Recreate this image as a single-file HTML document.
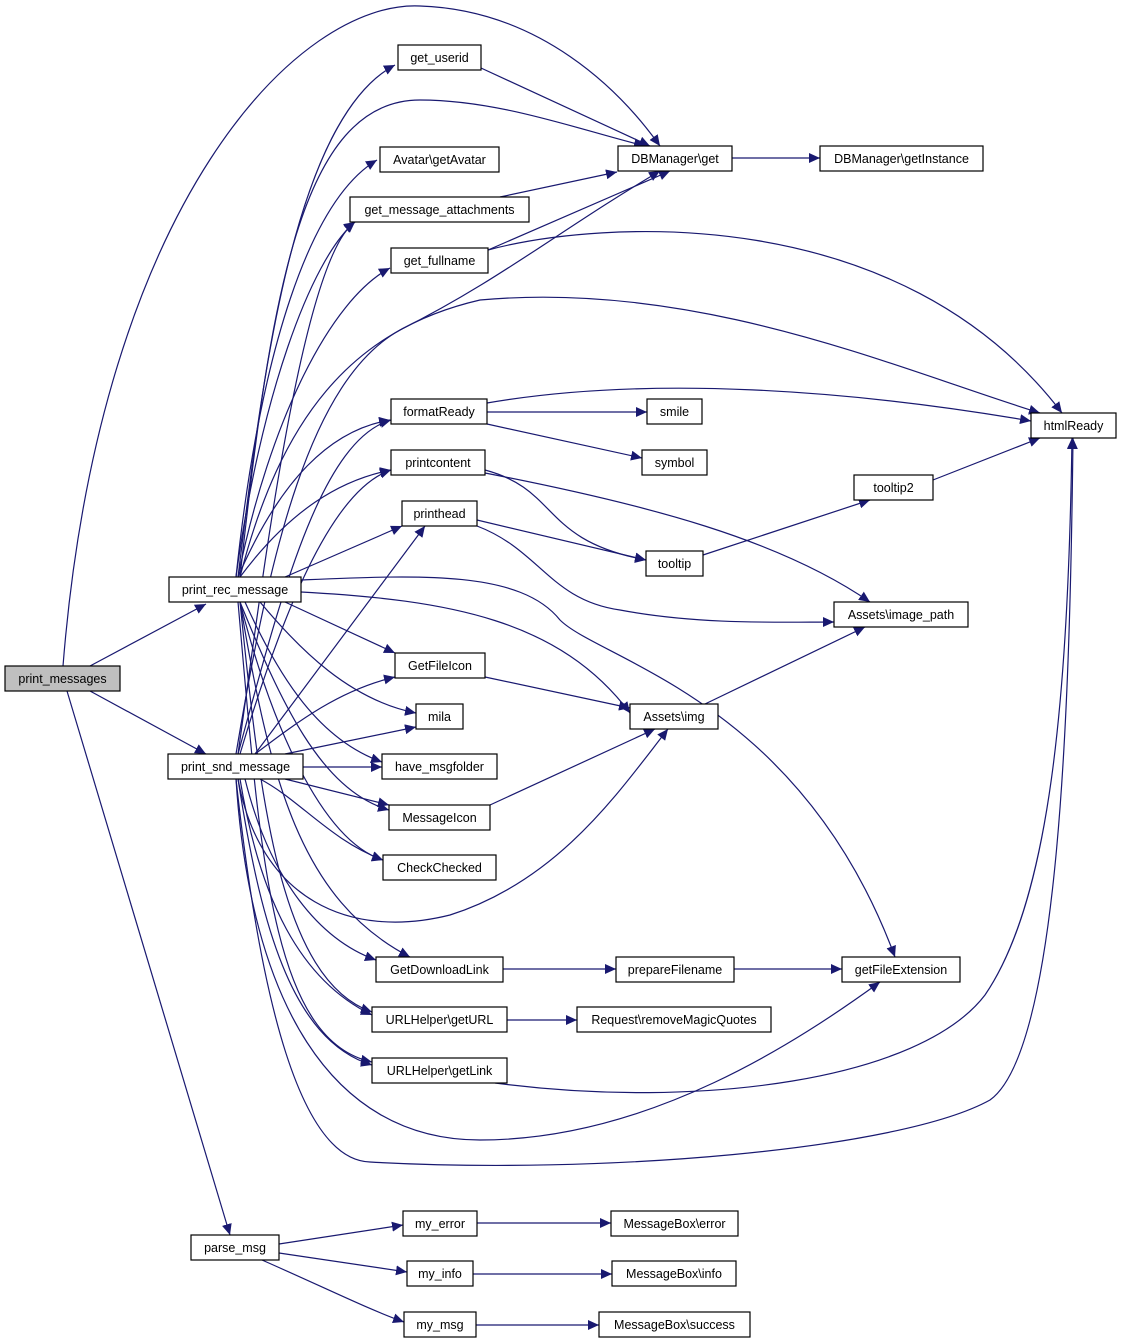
<!DOCTYPE html>
<html><head><meta charset="utf-8"><style>
html,body{margin:0;padding:0;background:#fff;}
svg{display:block;}
text{font-family:"Liberation Sans",sans-serif;font-size:12.5px;fill:#000;}
.n{fill:#fff;stroke:#000;stroke-width:1.2;}
.e{fill:none;stroke:#191970;stroke-width:1.2;}
</style></head><body>
<svg width="1121" height="1344" viewBox="0 0 1121 1344" xmlns="http://www.w3.org/2000/svg">
<defs><marker id="a" markerUnits="userSpaceOnUse" markerWidth="12" markerHeight="10" refX="11" refY="5" orient="auto"><path d="M0,0 L11,5 L0,10 Z" fill="#191970"/></marker></defs>
<g class="e" marker-end="url(#a)">
<path d="M90,666 L206,604"/>
<path d="M90,691 L206,754"/>
<path d="M67,691 L230,1235"/>
<path d="M63,666 C100,200 300,0 420,6 C540,10 620,90 660,146"/>
<path d="M481,68 L650,146"/>
<path d="M500,197 L617,172"/>
<path d="M488,250 L670,171"/>
<path d="M488,250 C600,220 900,200 1062,413"/>
<path d="M732,158 L820,158"/>
<path d="M487,403 C650,375 850,390 1031,421"/>
<path d="M487,412 L647,412"/>
<path d="M487,424 L642,458"/>
<path d="M485,470 C560,490 540,540 646,560"/>
<path d="M485,473 C650,505 780,540 870,602"/>
<path d="M477,520 L646,560"/>
<path d="M477,526 C540,550 550,600 620,610 C700,625 780,622 834,622"/>
<path d="M703,555 L870,500"/>
<path d="M933,480 L1040,438"/>
<path d="M485,677 L630,708"/>
<path d="M705,704 L865,627"/>
<path d="M490,805 L655,729"/>
<path d="M503,969 L616,969"/>
<path d="M734,969 L842,969"/>
<path d="M507,1020 L577,1020"/>
<path d="M279,1244 L403,1225"/>
<path d="M279,1253 L407,1272"/>
<path d="M262,1260 C330,1290 370,1310 404,1322"/>
<path d="M477,1223 L611,1223"/>
<path d="M473,1274 L612,1274"/>
<path d="M476,1325 L599,1325"/>
<!-- print_rec_message edges -->
<path d="M238,577 C260,400 290,120 395,65"/>
<path d="M240,577 C270,300 300,100 420,100 C500,100 580,130 645,146"/>
<path d="M236,577 C260,350 310,200 377,160"/>
<path d="M236,577 C260,400 310,260 355,222"/>
<path d="M238,577 C270,420 330,300 390,268"/>
<path d="M240,577 C280,420 350,330 480,300 C700,280 900,370 1040,413"/>
<path d="M238,577 C280,480 330,430 390,420"/>
<path d="M240,577 C290,510 340,480 391,470"/>
<path d="M285,577 L402,526"/>
<path d="M301,580 C420,575 520,570 560,620 C600,660 800,700 895,957"/>
<path d="M301,592 C450,600 560,620 630,713"/>
<path d="M285,602 L395,653"/>
<path d="M260,602 C300,650 350,700 416,713"/>
<path d="M245,602 C280,680 320,740 382,762"/>
<path d="M240,602 C280,700 320,790 389,810"/>
<path d="M240,602 C270,720 320,840 383,860"/>
<path d="M240,602 C270,780 300,900 410,957"/>
<path d="M240,602 C260,800 280,980 372,1012"/>
<path d="M238,602 C260,850 270,1040 372,1062"/>
<!-- print_snd_message edges -->
<path d="M238,754 C260,600 300,260 355,222"/>
<path d="M238,754 C280,600 320,440 391,420"/>
<path d="M240,754 C280,620 330,490 391,470"/>
<path d="M255,754 L425,526"/>
<path d="M236,754 C270,550 310,380 400,330 C500,280 560,230 660,171"/>
<path d="M255,754 C300,720 340,690 395,677"/>
<path d="M285,754 L416,727"/>
<path d="M303,767 L382,767"/>
<path d="M285,779 L389,805"/>
<path d="M260,779 C300,800 330,840 383,860"/>
<path d="M238,779 C260,900 350,940 450,915 C560,880 620,790 668,729"/>
<path d="M245,779 C270,880 320,940 376,960"/>
<path d="M240,779 C260,900 300,980 372,1015"/>
<path d="M238,779 C260,920 290,1040 372,1065"/>
<path d="M236,779 C250,1000 330,1140 480,1140 C650,1140 800,1040 880,982"/>
<path d="M236,779 C260,1000 300,1160 370,1162 C600,1175 900,1150 990,1100 C1060,1050 1070,700 1073,438"/>
<path d="M495,1083 C700,1110 920,1080 985,995 C1050,900 1068,700 1072,438"/>
</g>
<g>
<rect class="n" x="5" y="666" width="115" height="25" style="fill:#bfbfbf"/><text x="62.5" y="683" text-anchor="middle">print_messages</text>
<rect class="n" x="169" y="577" width="132" height="25"/><text x="235" y="594" text-anchor="middle">print_rec_message</text>
<rect class="n" x="168" y="754" width="135" height="25"/><text x="235.5" y="771" text-anchor="middle">print_snd_message</text>
<rect class="n" x="191" y="1235" width="88" height="25"/><text x="235" y="1252" text-anchor="middle">parse_msg</text>
<rect class="n" x="398" y="45" width="83" height="25"/><text x="439.5" y="62" text-anchor="middle">get_userid</text>
<rect class="n" x="380" y="147" width="119" height="25"/><text x="439.5" y="164" text-anchor="middle">Avatar\getAvatar</text>
<rect class="n" x="350" y="197" width="179" height="25"/><text x="439.5" y="214" text-anchor="middle">get_message_attachments</text>
<rect class="n" x="391" y="248" width="97" height="25"/><text x="439.5" y="265" text-anchor="middle">get_fullname</text>
<rect class="n" x="618" y="146" width="114" height="25"/><text x="675" y="163" text-anchor="middle">DBManager\get</text>
<rect class="n" x="820" y="146" width="163" height="25"/><text x="901.5" y="163" text-anchor="middle">DBManager\getInstance</text>
<rect class="n" x="391" y="399" width="96" height="25"/><text x="439" y="416" text-anchor="middle">formatReady</text>
<rect class="n" x="391" y="450" width="94" height="25"/><text x="438" y="467" text-anchor="middle">printcontent</text>
<rect class="n" x="402" y="501" width="75" height="25"/><text x="439.5" y="518" text-anchor="middle">printhead</text>
<rect class="n" x="647" y="399" width="55" height="25"/><text x="674.5" y="416" text-anchor="middle">smile</text>
<rect class="n" x="642" y="450" width="65" height="25"/><text x="674.5" y="467" text-anchor="middle">symbol</text>
<rect class="n" x="646" y="551" width="57" height="25"/><text x="674.5" y="568" text-anchor="middle">tooltip</text>
<rect class="n" x="854" y="475" width="79" height="25"/><text x="893.5" y="492" text-anchor="middle">tooltip2</text>
<rect class="n" x="1031" y="413" width="85" height="25"/><text x="1073.5" y="430" text-anchor="middle">htmlReady</text>
<rect class="n" x="834" y="602" width="134" height="25"/><text x="901" y="619" text-anchor="middle">Assets\image_path</text>
<rect class="n" x="395" y="653" width="90" height="25"/><text x="440" y="670" text-anchor="middle">GetFileIcon</text>
<rect class="n" x="416" y="704" width="47" height="25"/><text x="439.5" y="721" text-anchor="middle">mila</text>
<rect class="n" x="382" y="754" width="115" height="25"/><text x="439.5" y="771" text-anchor="middle">have_msgfolder</text>
<rect class="n" x="630" y="704" width="88" height="25"/><text x="674" y="721" text-anchor="middle">Assets\img</text>
<rect class="n" x="389" y="805" width="101" height="25"/><text x="439.5" y="822" text-anchor="middle">MessageIcon</text>
<rect class="n" x="383" y="855" width="113" height="25"/><text x="439.5" y="872" text-anchor="middle">CheckChecked</text>
<rect class="n" x="376" y="957" width="127" height="25"/><text x="439.5" y="974" text-anchor="middle">GetDownloadLink</text>
<rect class="n" x="616" y="957" width="118" height="25"/><text x="675" y="974" text-anchor="middle">prepareFilename</text>
<rect class="n" x="842" y="957" width="118" height="25"/><text x="901" y="974" text-anchor="middle">getFileExtension</text>
<rect class="n" x="372" y="1007" width="135" height="25"/><text x="439.5" y="1024" text-anchor="middle">URLHelper\getURL</text>
<rect class="n" x="577" y="1007" width="194" height="25"/><text x="674" y="1024" text-anchor="middle">Request\removeMagicQuotes</text>
<rect class="n" x="372" y="1058" width="135" height="25"/><text x="439.5" y="1075" text-anchor="middle">URLHelper\getLink</text>
<rect class="n" x="403" y="1211" width="74" height="25"/><text x="440" y="1228" text-anchor="middle">my_error</text>
<rect class="n" x="407" y="1261" width="66" height="25"/><text x="440" y="1278" text-anchor="middle">my_info</text>
<rect class="n" x="404" y="1312" width="72" height="25"/><text x="440" y="1329" text-anchor="middle">my_msg</text>
<rect class="n" x="611" y="1211" width="127" height="25"/><text x="674.5" y="1228" text-anchor="middle">MessageBox\error</text>
<rect class="n" x="612" y="1261" width="124" height="25"/><text x="674" y="1278" text-anchor="middle">MessageBox\info</text>
<rect class="n" x="599" y="1312" width="151" height="25"/><text x="674.5" y="1329" text-anchor="middle">MessageBox\success</text>
</g>
</svg>
</body></html>
